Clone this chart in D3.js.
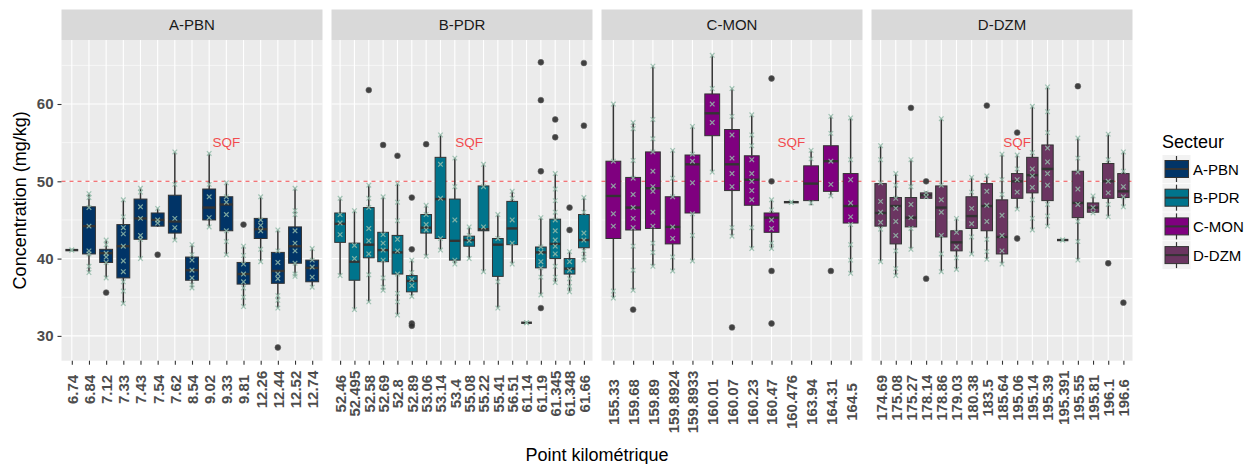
<!DOCTYPE html>
<html><head><meta charset="utf-8">
<script src="https://cdn.jsdelivr.net/npm/d3@7"></script>
<style>body{margin:0;background:#fff}svg{display:block;font-family:"Liberation Sans",Arial,sans-serif}</style>
</head><body><svg id="c" width="1244" height="464"></svg>
<script>
const sectors = ["A-PBN","B-PDR","C-MON","D-DZM"];
const palette = ["#013467","#00748C","#7F007F","#6B3561"];
const threshold = 50;
const thresholdLabel = "SQF";
const yTicks = [30,40,50,60];

const pkA = ["6.74","6.84","7.12","7.33","7.43","7.54","7.62","8.54","9.02","9.33","9.81","12.26","12.44","12.52","12.74"];
const pkB = ["52.46","52.495","52.58","52.69","52.8","52.89","53.06","53.14","53.4","55.08","55.22","55.41","56.51","61.14","61.19","61.345","61.348","61.66"];
const pkC = ["155.33","159.68","159.89","159.8924","159.8933","160.01","160.07","160.23","160.47","160.476","163.94","164.31","164.5"];
const pkD = ["174.69","175.08","175.27","178.14","178.86","179.03","180.38","183.5","185.64","195.06","195.14","195.39","195.391","195.55","195.81","196.1","196.6"];

// [whisker low, Q1, median, Q3, whisker high]
const statsA = [[41.1,41.1,41.1,41.1,41.1],[38.2,40.6,44.2,46.7,48.4],[37.5,39.5,40.7,41.2,42.4],[34.2,37.5,41.6,44.4,47.6],[40.0,42.5,45.2,47.7,49.1],[44.1,44.2,45.0,45.9,46.5],[42.4,43.3,44.8,48.2,53.8],[36.2,37.2,38.5,40.2,41.8],[44.1,45.0,46.6,49.0,53.6],[40.5,43.6,47.0,48.0,49.8],[33.8,36.7,38.0,39.5,41.6],[39.6,42.6,43.8,45.2,48.0],[33.6,36.8,38.4,40.8,43.7],[37.7,39.4,41.6,44.1,49.1],[36.3,37.0,38.8,39.8,41.3]];
const statsB = [[37.8,42.1,44.5,45.9,47.8],[33.4,37.2,39.6,42.0,46.2],[34.4,40.1,41.8,46.6,49.5],[35.9,39.6,41.1,43.4,48.0],[32.7,38.0,40.8,43.0,49.7],[35.1,35.7,37.1,37.8,39.8],[40.3,43.3,44.0,45.7,46.9],[41.1,42.6,47.7,53.1,56.0],[39.3,39.8,42.3,47.7,53.0],[40.0,41.6,42.4,42.9,44.1],[38.3,43.6,43.8,49.4,52.2],[33.6,37.7,41.8,42.6,45.7],[39.3,41.8,43.9,47.4,48.7],[31.7,31.7,31.7,31.7,31.7],[35.3,38.8,40.8,41.5,45.3],[36.9,40.0,41.9,45.1,51.0],[35.7,38.0,38.7,40.0,40.9],[39.8,41.4,42.4,45.7,47.9]];
const statsC = [[34.9,42.6,48.1,52.6,60.0],[35.9,43.7,46.6,50.5,57.6],[39.0,43.9,49.1,53.8,64.9],[38.4,41.9,44.1,48.0,54.0],[39.7,45.9,52.2,53.4,57.1],[51.2,55.9,58.8,61.3,66.3],[42.9,48.8,52.2,56.7,62.0],[41.3,46.9,50.2,53.3,58.6],[41.3,43.4,45.3,45.9,47.6],[47.3,47.3,47.3,47.3,47.3],[46.9,47.5,49.7,52.0,54.0],[48.1,48.7,52.6,54.6,58.4],[38.1,44.6,46.8,51.0,58.2]];
const statsD = [[39.6,44.2,45.9,49.7,54.6],[37.8,41.9,46.8,47.9,51.0],[41.2,44.1,45.3,47.9,52.8],[47.7,47.8,48.2,48.5,48.7],[38.3,42.8,46.6,49.4,58.1],[38.6,41.0,42.1,43.6,45.2],[40.6,43.9,45.5,48.0,50.5],[39.9,43.6,46.8,49.7,50.7],[39.3,40.6,42.8,47.6,53.5],[46.4,47.8,50.0,51.0,53.4],[43.7,48.5,50.8,53.1,59.7],[44.2,47.5,51.6,54.7,62.2],[42.4,42.4,42.4,42.4,42.4],[39.8,45.3,47.2,51.3,55.6],[45.9,46.0,46.6,47.2,48.1],[45.4,47.8,50.0,52.3,56.1],[46.7,47.9,48.7,51.0,53.8]];

const outliersA = [["7.12",35.6],["7.54",40.5],["9.81",44.4],["12.44",28.5]];
const outliersB = [["52.58",61.8],["52.69",54.7],["52.8",53.3],["52.89",47.9],["52.89",41.2],["52.89",31.6],["52.89",31.3],["53.06",54.8],["61.19",65.4],["61.19",60.5],["61.19",51.3],["61.19",33.6],["61.345",58.0],["61.345",55.7],["61.348",46.6],["61.348",43.7],["61.66",65.3],["61.66",57.2]];
const outliersC = [["159.68",33.4],["160.07",31.1],["160.47",63.3],["160.47",50.0],["160.47",38.4],["160.47",31.6],["164.31",38.4]];
const outliersD = [["175.27",59.5],["178.14",50.0],["178.14",37.4],["183.5",59.8],["195.06",56.3],["195.06",42.6],["195.55",62.3],["196.1",39.4],["196.6",34.3]];

const pointsA = [[41.1,41.1],[48.4,47.9,46.6,44.2,41.0,40.6,39.0,38.2],[42.4,41.8,40.7,40.2,39.5,37.5],[47.6,45.4,44.0,43.2,41.6,39.7,38.3,37.0,35.8,34.2],[49.1,48.6,46.7,45.2,43.0,42.5,40.0],[46.5,45.0,44.6],[53.8,49.6,45.2,44.0,42.4],[41.8,40.5,39.8,38.5,37.5,36.6,36.2],[53.6,49.6,48.0,45.3,44.1],[49.8,48.0,47.3,45.7,43.6,42.2,40.5],[41.6,40.4,39.3,38.0,37.0,36.2,35.0,33.8],[48.0,45.0,44.3,43.6,41.2,39.6],[43.7,41.0,39.5,38.0,37.4,35.2,34.6,33.6],[49.1,46.2,45.7,43.6,42.0,41.0,39.4,38.0,37.7],[41.3,39.8,38.9,37.6,36.3]];
const pointsB = [[47.8,45.7,44.6,43.1,37.8],[46.2,41.7,40.0,33.4],[49.5,47.8,46.6,43.9,42.3,40.6,37.9,34.4],[48.0,43.1,42.0,41.1,39.8,37.5,36.3,35.9],[49.7,47.3,44.9,42.5,41.0,38.0,35.5,34.4,32.7],[39.8,38.2,37.3,36.5,35.1],[46.9,45.7,44.4,43.7,40.3],[56.0,52.2,47.8,42.6,41.1],[53.0,49.3,45.0,39.8,39.3],[44.1,43.0,42.3,40.0],[52.2,49.3,44.1,38.3],[45.7,42.6,37.0,33.6],[48.7,47.8,45.0,42.0,39.3],[31.7,31.7],[45.3,41.5,40.8,39.6,38.8,37.6,35.3],[51.0,49.0,47.5,46.0,45.0,43.6,42.4,41.6,40.6,39.0,37.6,36.9],[40.9,39.6,38.5,37.4,36.4,35.7],[47.9,46.0,43.3,42.4,41.0,40.2,39.8]];
const pointsC = [[60.0,52.6,49.4,45.8,44.2,35.8,34.9],[57.6,56.8,52.7,50.4,48.3,46.6,45.2,44.0,41.6,38.5,35.9],[64.9,58.0,55.5,53.8,51.3,49.3,48.7,46.0,44.2,42.0,40.8,39.0],[54.0,50.4,48.0,44.1,42.6,40.2,38.4],[57.1,53.5,52.6,49.8,45.8,43.0,39.7],[66.3,62.0,60.0,57.6,51.2],[62.0,58.4,56.0,53.0,51.0,49.3,44.0,42.9],[58.6,56.0,54.6,52.8,51.0,50.0,48.8,47.6,44.0,41.3],[47.6,46.3,45.0,43.9,42.0,41.3],[47.3,47.3],[54.0,52.9,47.2],[58.4,56.2,52.6,49.6,48.1],[58.2,52.8,50.2,47.2,45.4,44.4,41.8,39.8,38.1]];
const pointsD = [[54.6,52.8,49.8,47.4,46.0,44.7,43.8,39.6],[51.0,49.5,47.8,46.5,44.8,43.0,41.0,38.7,37.8],[52.8,49.3,47.0,45.3,43.9,41.2],[48.5,48.0],[58.1,49.5,47.6,46.0,43.0,40.6,38.3],[45.2,43.4,41.5,40.1,38.6],[50.5,48.6,46.5,44.5,42.8,40.6],[50.7,48.7,46.9,44.8,42.5,40.9,39.9],[53.5,50.2,48.3,45.6,43.0,41.0,39.3],[53.4,51.6,50.2,48.6,46.4],[59.7,53.7,51.6,50.7,49.2,47.6,45.2,43.7],[62.2,59.0,56.3,54.3,52.5,51.0,49.5,47.0,45.5,44.2],[42.4,42.4],[55.6,53.0,51.2,49.0,47.0,44.8,42.2,39.8],[48.1,46.6,45.9],[56.1,52.8,50.0,48.5,47.0,45.4],[53.8,51.3,49.3,48.0,46.7]];

const panels = [
  {name:sectors[0], pk:pkA, stats:statsA, out:outliersA, pts:pointsA, color:palette[0]},
  {name:sectors[1], pk:pkB, stats:statsB, out:outliersB, pts:pointsB, color:palette[1]},
  {name:sectors[2], pk:pkC, stats:statsC, out:outliersC, pts:pointsC, color:palette[2]},
  {name:sectors[3], pk:pkD, stats:statsD, out:outliersD, pts:pointsD, color:palette[3]}
];

const svg = d3.select("#c");
const pTop = 40, pBottom = 360.7, stripTop = 9.5;
const pLeft0 = 61.5, pW = 261, pGap = 9;
const y = d3.scaleLinear().domain([26.79, 68.28]).range([pBottom, pTop]);
const ink = "#333333";
const labelGrey = "#4D4D4D";

panels.forEach((p, i) => {
  const left = pLeft0 + i*(pW + pGap);
  const x = d3.scalePoint().domain(p.pk).range([left, left + pW]).padding(0.6);
  const step = x.step();
  const bw = step * 0.75;
  const g = svg.append("g");
  g.append("rect").attr("x", left).attr("y", stripTop).attr("width", pW).attr("height", pTop - stripTop).attr("fill", "#D9D9D9");
  g.append("text").attr("x", left + pW/2).attr("y", (stripTop + pTop)/2).attr("text-anchor","middle").attr("dominant-baseline","central")
    .attr("font-size", 15).attr("fill", "#1A1A1A").text(p.name);
  g.append("rect").attr("x", left).attr("y", pTop).attr("width", pW).attr("height", pBottom - pTop).attr("fill", "#EBEBEB");
  [35,45,55,65].forEach(v => g.append("line").attr("x1", left).attr("x2", left+pW).attr("y1", y(v)).attr("y2", y(v)).attr("stroke","#fff").attr("stroke-width",0.6));
  yTicks.forEach(v => g.append("line").attr("x1", left).attr("x2", left+pW).attr("y1", y(v)).attr("y2", y(v)).attr("stroke","#fff").attr("stroke-width",1.1));
  p.pk.forEach(k => g.append("line").attr("x1", x(k)).attr("x2", x(k)).attr("y1", pTop).attr("y2", pBottom).attr("stroke","#fff").attr("stroke-width",1.1));
  g.append("line").attr("x1", left).attr("x2", left+pW).attr("y1", y(threshold)).attr("y2", y(threshold))
    .attr("stroke","#F04A4E").attr("stroke-width",1.1).attr("stroke-dasharray","4,4");
  p.pk.forEach((k, j) => {
    const s = p.stats[j];
    const cx = x(k);
    g.append("line").attr("x1", cx).attr("x2", cx).attr("y1", y(s[4])).attr("y2", y(s[3])).attr("stroke", ink).attr("stroke-width", 1.5);
    g.append("line").attr("x1", cx).attr("x2", cx).attr("y1", y(s[1])).attr("y2", y(s[0])).attr("stroke", ink).attr("stroke-width", 1.5);
    g.append("rect").attr("x", cx - bw/2).attr("y", y(s[3])).attr("width", bw).attr("height", Math.max(0, y(s[1]) - y(s[3])))
      .attr("fill", p.color).attr("stroke", ink).attr("stroke-width", 1);
    g.append("line").attr("x1", cx - bw/2).attr("x2", cx + bw/2).attr("y1", y(s[2])).attr("y2", y(s[2])).attr("stroke", ink).attr("stroke-width", 2.4);
  });
  p.out.forEach(o => {
    g.append("circle").attr("cx", x(o[0])).attr("cy", y(o[1])).attr("r", 2.9).attr("fill", "#2E2E2E").attr("stroke","#555").attr("stroke-width",0.6).attr("opacity", 0.9);
  });
  p.pk.forEach((k, j) => {
    p.pts[j].forEach(v => {
      const cx = x(k), cy = y(v), r = 2.3;
      g.append("path").attr("d", `M${cx-r},${cy-r}L${cx+r},${cy+r}M${cx-r},${cy+r}L${cx+r},${cy-r}`)
        .attr("stroke", "#93BBA9").attr("stroke-width", 1.2).attr("opacity", 0.85).attr("fill","none");
    });
  });
  g.append("text").attr("x", x(p.pk[9])).attr("y", y(55)).attr("text-anchor","middle").attr("dominant-baseline","central")
    .attr("font-size", 13.5).attr("fill", "#F24B4F").text(thresholdLabel);
  const ax = svg.append("g").attr("transform", `translate(0,${pBottom})`).call(d3.axisBottom(x).tickSize(4).tickPadding(0));
  ax.select(".domain").remove();
  ax.selectAll(".tick line").attr("stroke", ink).attr("stroke-width", 1.1);
  const texts = ax.selectAll(".tick text").attr("font-size", 15).attr("font-weight", "bold").attr("fill", labelGrey)
    .attr("font-family", '"Liberation Sans",Arial,sans-serif');
  let maxW = 0;
  texts.each(function(){ maxW = Math.max(maxW, this.getComputedTextLength()); });
  texts.attr("transform", "rotate(-90)").attr("text-anchor", "middle").attr("x", -(10 + maxW/2)).attr("y", 0).attr("dy", "0.36em");
});

const ay = svg.append("g").attr("transform", `translate(${pLeft0},0)`).call(d3.axisLeft(y).tickValues(yTicks).tickSize(4).tickPadding(4));
ay.select(".domain").remove();
ay.selectAll(".tick line").attr("stroke", ink).attr("stroke-width", 1.1);
ay.selectAll(".tick text").attr("font-size", 15).attr("font-weight","bold").attr("fill", labelGrey).attr("font-family", '"Liberation Sans",Arial,sans-serif');

svg.append("text").attr("transform", `translate(19.5,${(pTop+pBottom)/2}) rotate(-90)`).attr("text-anchor","middle").attr("dominant-baseline","central")
  .attr("font-size", 18).attr("fill","#000").text("Concentration (mg/kg)");
const plotRight = pLeft0 + 4*pW + 3*pGap;
svg.append("text").attr("x", (pLeft0 + plotRight)/2).attr("y", 455).attr("text-anchor","middle").attr("dominant-baseline","central")
  .attr("font-size", 18).attr("fill","#000").text("Point kilométrique");

const lg = svg.append("g");
lg.append("text").attr("x", 1162).attr("y", 148).attr("font-size", 18).attr("fill","#000").text("Secteur");
sectors.forEach((s, i) => {
  const cy = 169 + i*28.7;
  lg.append("rect").attr("x", 1162.5).attr("y", cy - 14).attr("width", 28).attr("height", 28).attr("fill", "#F2F2F2");
  lg.append("line").attr("x1", 1176.5).attr("x2", 1176.5).attr("y1", cy - 13).attr("y2", cy + 13).attr("stroke", ink).attr("stroke-width", 1.2);
  lg.append("rect").attr("x", 1165).attr("y", cy - 8.5).attr("width", 23.5).attr("height", 17).attr("fill", palette[i]).attr("stroke", ink).attr("stroke-width", 1);
  lg.append("line").attr("x1", 1165).attr("x2", 1188.5).attr("y1", cy).attr("y2", cy).attr("stroke", ink).attr("stroke-width", 2);
  lg.append("text").attr("x", 1193).attr("y", cy).attr("dominant-baseline","central").attr("font-size", 15).attr("fill","#000").text(s);
});
</script>
</body></html>
